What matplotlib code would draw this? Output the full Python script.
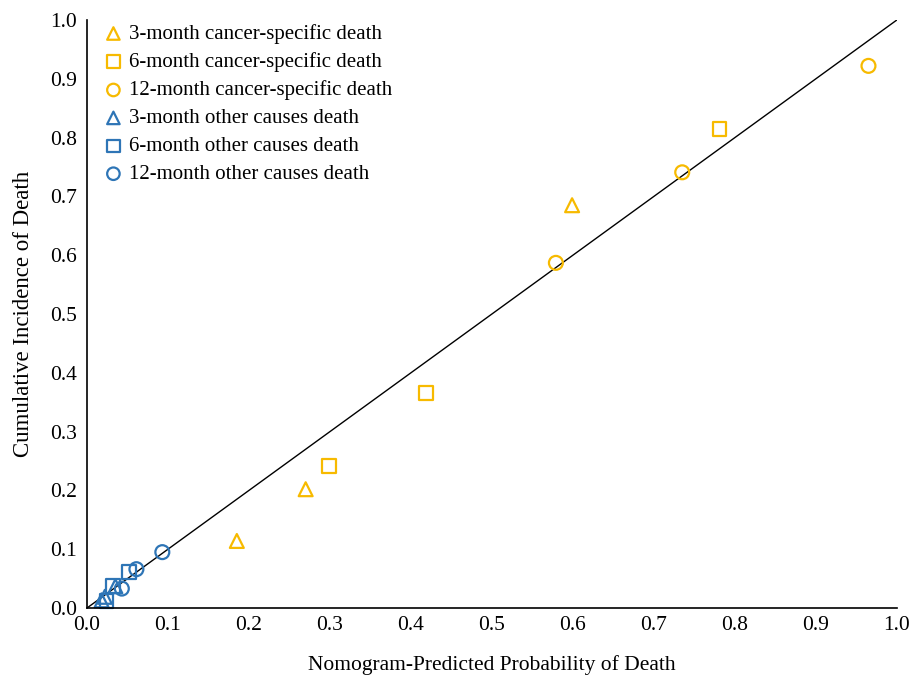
import matplotlib.pyplot as plt

plt.rcParams['font.family'] = ['Liberation Serif', 'DejaVu Serif']

# predicted (x) vs observed cumulative incidence (y)
cs_3m_x = [0.185, 0.270, 0.599]
cs_3m_y = [0.114, 0.202, 0.685]
cs_6m_x = [0.299, 0.419, 0.781]
cs_6m_y = [0.241, 0.366, 0.815]
cs_12m_x = [0.579, 0.735, 0.965]
cs_12m_y = [0.587, 0.741, 0.922]

oc_3m_x = [0.018, 0.022, 0.035]
oc_3m_y = [0.013, 0.019, 0.037]
oc_6m_x = [0.024, 0.032, 0.052]
oc_6m_y = [0.012, 0.038, 0.061]
oc_12m_x = [0.043, 0.061, 0.093]
oc_12m_y = [0.033, 0.066, 0.095]

ticks = [0.0, 0.1, 0.2, 0.3, 0.4, 0.5, 0.6, 0.7, 0.8, 0.9, 1.0]

gold = '#F7BA00'
blue = '#2E75B6'

fig = plt.figure(figsize=(9.14, 6.76), dpi=100)
ax = fig.add_axes([0.0952, 0.1006, 0.886, 0.8698])

ax.plot([0, 1], [0, 1], color='black', lw=1, zorder=1)

series = [
    (cs_3m_x, cs_3m_y, '^', gold, '3-month cancer-specific death'),
    (cs_6m_x, cs_6m_y, 's', gold, '6-month cancer-specific death'),
    (cs_12m_x, cs_12m_y, 'o', gold, '12-month cancer-specific death'),
    (oc_3m_x, oc_3m_y, '^', blue, '3-month other causes death'),
    (oc_6m_x, oc_6m_y, 's', blue, '6-month other causes death'),
    (oc_12m_x, oc_12m_y, 'o', blue, '12-month other causes death'),
]
for x, y, m, c, lab in series:
    ax.scatter(x, y, marker=m, s=100, facecolors='none', edgecolors=c,
               linewidths=1.6, label=lab, zorder=2, clip_on=False)

ax.set_xlim(0, 1)
ax.set_ylim(0, 1)
ax.set_xticks(ticks)
ax.set_yticks(ticks)
ax.set_xticklabels([f'{t:.1f}' for t in ticks])
ax.set_yticklabels([f'{t:.1f}' for t in ticks])
ax.tick_params(length=0, labelsize=15.5)
ax.tick_params(axis='y', pad=7)
ax.tick_params(axis='x', pad=6)
for s in ['top', 'right']:
    ax.spines[s].set_visible(False)
for s in ['left', 'bottom']:
    ax.spines[s].set_linewidth(1.2)

ax.set_xlabel('Nomogram-Predicted Probability of Death', fontsize=15.5, labelpad=14)
ax.set_ylabel('Cumulative Incidence of Death', fontsize=16.5, labelpad=12)

ax.legend(loc='upper left', bbox_to_anchor=(-0.006, 1.025), frameon=False,
          fontsize=15, handletextpad=0.15, labelspacing=0.40, markerscale=0.9,
          handlelength=1.2)

fig.savefig('out.png', dpi=100)
